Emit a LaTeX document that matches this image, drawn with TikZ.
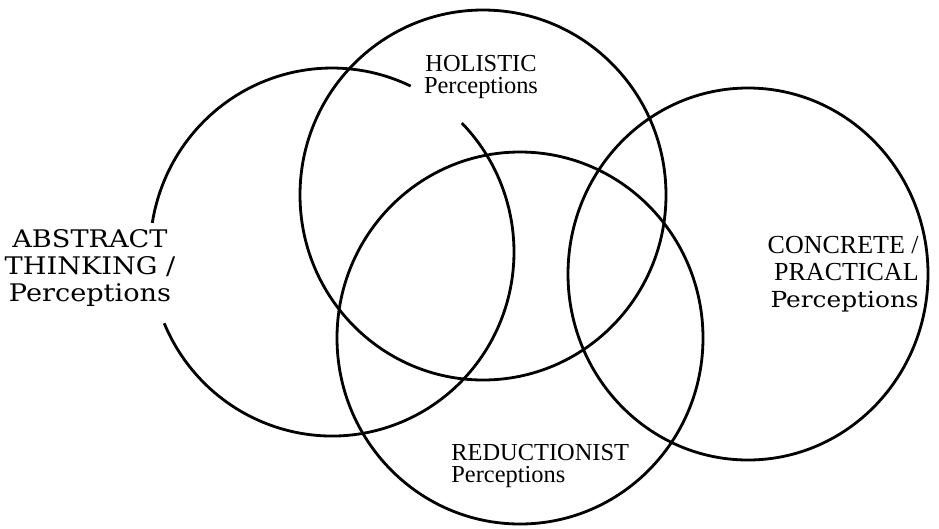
\documentclass[tikz,border=0pt]{standalone}
\usepackage{fontspec}
\setmainfont{Liberation Serif}
\newfontfamily\widefont[FakeStretch=1.12]{DejaVu Serif}
\usetikzlibrary{positioning}

\begin{document}
\begin{tikzpicture}[
    x=0.02cm, y=0.02cm,
    ring/.style={line width=1.6pt},
    lbl/.style={inner sep=0pt, font=\fontsize{13.9}{12.5}\selectfont},
    widelbl/.style={inner sep=0pt, align=center, font=\widefont\fontsize{13.8}{15.4}\selectfont}
  ]
    \useasboundingbox (0,0) rectangle (939,-528);
    \coordinate (abs) at (332,-252);
    \coordinate (hol) at (483,-195);
    \coordinate (red) at (520,-338);
    \coordinate (con) at (748,-274);
    % the four fields
    \draw[ring] (hol) ellipse[x radius=183, y radius=185];
    \draw[ring] (red) ellipse[x radius=183, y radius=186];
    \draw[ring] (con) ellipse[x radius=180, y radius=186];
    \draw[ring] (abs) ++(64.4:182 and 184) arc[start angle=64.4, end angle=170.9, x radius=182, y radius=184];
    \draw[ring] (abs) ++(202.8:182 and 184) arc[start angle=202.8, end angle=404.5, x radius=182, y radius=184];
    % labels
    \node[widelbl] (abstxt) at (90,-268) {ABSTRACT\\THINKING /\\Perceptions};
    \node[lbl, align=center] (holtxt) at (481,-77) {HOLISTIC\\Perceptions};
    \node[lbl, align=left, anchor=west] (redtxt) at (451,-466) {REDUCTIONIST\\Perceptions};
    \node[lbl, align=right, anchor=east, font=\fontsize{14.8}{15.4}\selectfont] (contxt) at (919,-274) {CONCRETE /\\PRACTICAL\\{\widefont\fontsize{12.6}{15.4}\selectfont Perceptions}};
\end{tikzpicture}
\end{document}
